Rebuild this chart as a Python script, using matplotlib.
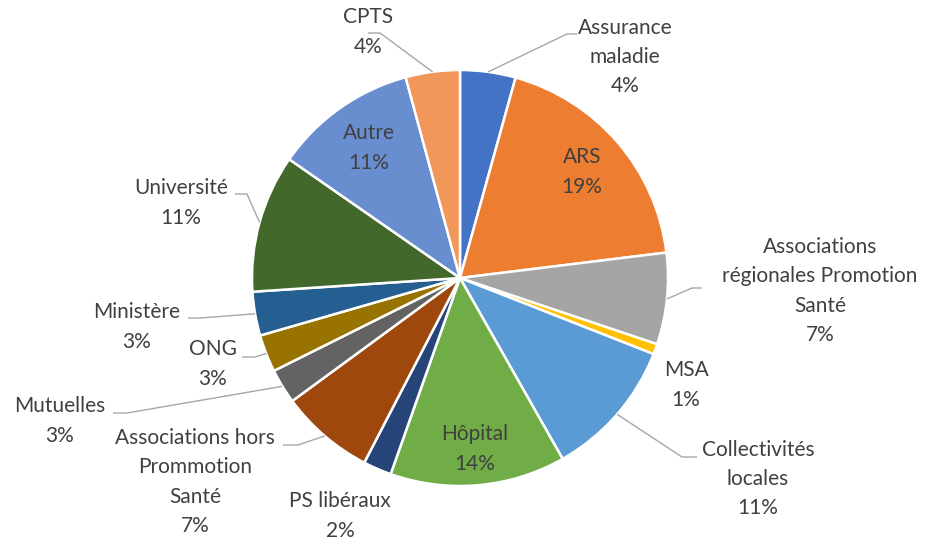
import numpy as np
import matplotlib
matplotlib.use("Agg")
import matplotlib.pyplot as plt

# share of partners (percent), clockwise from 12 o'clock
categories = ["Assurance\nmaladie", "ARS", "Associations\nrégionales Promotion\nSanté", "MSA",
              "Collectivités\nlocales", "Hôpital", "PS libéraux", "Associations hors\nPrommotion\nSanté",
              "Mutuelles", "ONG", "Ministère", "Université", "Autre", "CPTS"]
values = [4.3, 18.7, 7.1, 0.8, 10.8, 13.6, 2.2, 7.3, 2.7, 2.9, 3.4, 10.7, 11.1, 4.2]
colors = ["#4472C4", "#ED7D31", "#A5A5A5", "#FFC000", "#5B9BD5", "#70AD47", "#264478",
          "#9E480E", "#636363", "#997300", "#255E91", "#43682B", "#698ED0", "#F1975A"]

W, H = 926, 539
cx, cy, R = 460, 278, 208

# label centre (pixels) and optional elbow of the leader line
label_pos = [
    (625, 57, (577, 34), (567, 34)),
    (582, 172, None, None),
    (820, 291, (702, 288), (692, 288)),
    (686, 385, None, None),
    (758, 479, (697, 457), (682, 457)),
    (475, 449, None, None),
    (340, 516, None, None),
    (195, 482, (283, 445), (298, 445)),
    (60, 421, (113, 413), (127, 413)),
    (213, 364, (242, 357), (255, 357)),
    (137, 327, (188, 318), (200, 318)),
    (181, 203, (235, 194), (247, 194)),
    (369, 148, None, None),
    (368, 32, (368, 33), (380, 33)),
]

fig = plt.figure(figsize=(W / 100, H / 100), dpi=100)
ax = fig.add_axes([0, 0, 1, 1])

# y axis is flipped below, so counterclock=True draws clockwise on screen
wedges, _ = ax.pie(values, colors=colors, startangle=-90, counterclock=True,
                   center=(cx, cy), radius=R,
                   wedgeprops=dict(edgecolor="white", linewidth=1.8))
ax.set_xlim(0, W)
ax.set_ylim(H, 0)
ax.axis("off")

total = sum(values)
font = ["Lato", "DejaVu Sans"]
for w, name, v, (tx, ty, p0, p1) in zip(wedges, categories, values, label_pos):
    pct = "%d%%" % round(v / total * 100)
    ax.text(tx, ty, name + "\n" + pct, ha="center", va="center", fontsize=15,
            color="#404040", family=font, linespacing=1.58)
    if p0 is not None:
        mid = np.deg2rad((w.theta1 + w.theta2) / 2)
        ex, ey = cx + R * np.cos(mid), cy + R * np.sin(mid)
        ax.plot([p0[0], p1[0], ex], [p0[1], p1[1], ey], color="#A6A6A6", lw=1.0,
                solid_capstyle="butt")

fig.savefig("out.png", dpi=100)
